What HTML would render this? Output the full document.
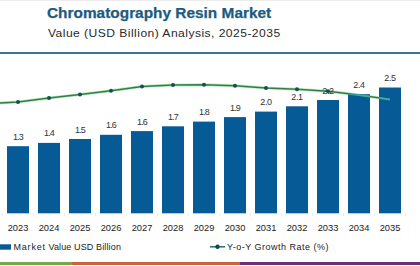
<!DOCTYPE html>
<html><head><meta charset="utf-8"><style>
html,body{margin:0;padding:0;background:#fff;}
body{width:420px;height:266px;position:relative;overflow:hidden;font-family:"Liberation Sans",sans-serif;}
.t{position:absolute;white-space:nowrap;line-height:1;}
#title{left:47px;top:5.8px;font-size:14px;font-weight:bold;color:#1c5b80;transform:scaleX(1.1);transform-origin:0 0;-webkit-text-stroke:0.25px #1c5b80;}
#sub{left:47.5px;top:27.8px;font-size:11px;color:#2a2a2a;transform:scaleX(1.1);transform-origin:0 0;letter-spacing:0.41px;}
svg{position:absolute;left:0;top:0;}
</style></head><body>
<div class="t" id="title">Chromatography Resin Market</div>
<div class="t" id="sub">Value (USD Billion) Analysis, 2025-2035</div>
<svg width="420" height="266" viewBox="0 0 420 266">
<rect x="0" y="0" width="420" height="1" fill="#ececec"/>
<rect x="0" y="52" width="420" height="2" fill="#3f7191"/>
<g><line x1="2.5" y1="213.3" x2="2.5" y2="216.3" stroke="#ececec" stroke-width="1"/><line x1="33.5" y1="213.3" x2="33.5" y2="216.3" stroke="#ececec" stroke-width="1"/><line x1="64.5" y1="213.3" x2="64.5" y2="216.3" stroke="#ececec" stroke-width="1"/><line x1="95.5" y1="213.3" x2="95.5" y2="216.3" stroke="#ececec" stroke-width="1"/><line x1="126.5" y1="213.3" x2="126.5" y2="216.3" stroke="#ececec" stroke-width="1"/><line x1="157.5" y1="213.3" x2="157.5" y2="216.3" stroke="#ececec" stroke-width="1"/><line x1="188.5" y1="213.3" x2="188.5" y2="216.3" stroke="#ececec" stroke-width="1"/><line x1="219.5" y1="213.3" x2="219.5" y2="216.3" stroke="#ececec" stroke-width="1"/><line x1="250.5" y1="213.3" x2="250.5" y2="216.3" stroke="#ececec" stroke-width="1"/><line x1="281.5" y1="213.3" x2="281.5" y2="216.3" stroke="#ececec" stroke-width="1"/><line x1="312.5" y1="213.3" x2="312.5" y2="216.3" stroke="#ececec" stroke-width="1"/><line x1="343.5" y1="213.3" x2="343.5" y2="216.3" stroke="#ececec" stroke-width="1"/><line x1="374.5" y1="213.3" x2="374.5" y2="216.3" stroke="#ececec" stroke-width="1"/><line x1="405.5" y1="213.3" x2="405.5" y2="216.3" stroke="#ececec" stroke-width="1"/></g>
<g fill="none" stroke-linejoin="round" stroke-linecap="round">
<path d="M0,103 L18,101.9 L49,98 L80,94.6 L111,90.7 L142,86.6 L173,85 L204,84.7 L235,85.7 L266,88 L297,89.3 L328,91.2 L359,95 L390,99.4" stroke="#c4eac4" stroke-width="3.0"/>
<path d="M0,103 L18,101.9 L49,98 L80,94.6 L111,90.7 L142,86.6 L173,85 L204,84.7 L235,85.7 L266,88 L297,89.3 L328,91.2 L359,95 L390,99.4" stroke="#2f8048" stroke-width="1.5"/>
</g>
<g><circle cx="18" cy="101.9" r="2.0" fill="#13504f"/><circle cx="49" cy="98" r="2.0" fill="#13504f"/><circle cx="80" cy="94.6" r="2.0" fill="#13504f"/><circle cx="111" cy="90.7" r="2.0" fill="#13504f"/><circle cx="142" cy="86.6" r="2.0" fill="#13504f"/><circle cx="173" cy="85" r="2.0" fill="#13504f"/><circle cx="204" cy="84.7" r="2.0" fill="#13504f"/><circle cx="235" cy="85.7" r="2.0" fill="#13504f"/><circle cx="266" cy="88" r="2.0" fill="#13504f"/><circle cx="297" cy="89.3" r="2.0" fill="#13504f"/><circle cx="328" cy="91.2" r="2.0" fill="#13504f"/></g>
<defs><clipPath id="bc"><rect x="7" y="146.2" width="22" height="67.1" fill="#065a95"/><rect x="38" y="142.9" width="22" height="70.4" fill="#065a95"/><rect x="69" y="139" width="22" height="74.3" fill="#065a95"/><rect x="100" y="134.8" width="22" height="78.5" fill="#065a95"/><rect x="131" y="131.1" width="22" height="82.2" fill="#065a95"/><rect x="162" y="126.3" width="22" height="87.0" fill="#065a95"/><rect x="193" y="121.6" width="22" height="91.7" fill="#065a95"/><rect x="224" y="117.1" width="22" height="96.2" fill="#065a95"/><rect x="255" y="111.6" width="22" height="101.7" fill="#065a95"/><rect x="286" y="106.3" width="22" height="107.0" fill="#065a95"/><rect x="317" y="100" width="22" height="113.3" fill="#065a95"/><rect x="348" y="94.2" width="22" height="119.1" fill="#065a95"/><rect x="379" y="87.5" width="22" height="125.8" fill="#065a95"/></clipPath></defs>
<g><rect x="7" y="146.2" width="22" height="67.1" fill="#065a95"/><rect x="38" y="142.9" width="22" height="70.4" fill="#065a95"/><rect x="69" y="139" width="22" height="74.3" fill="#065a95"/><rect x="100" y="134.8" width="22" height="78.5" fill="#065a95"/><rect x="131" y="131.1" width="22" height="82.2" fill="#065a95"/><rect x="162" y="126.3" width="22" height="87.0" fill="#065a95"/><rect x="193" y="121.6" width="22" height="91.7" fill="#065a95"/><rect x="224" y="117.1" width="22" height="96.2" fill="#065a95"/><rect x="255" y="111.6" width="22" height="101.7" fill="#065a95"/><rect x="286" y="106.3" width="22" height="107.0" fill="#065a95"/><rect x="317" y="100" width="22" height="113.3" fill="#065a95"/><rect x="348" y="94.2" width="22" height="119.1" fill="#065a95"/><rect x="379" y="87.5" width="22" height="125.8" fill="#065a95"/></g>
<path d="M0,103 L18,101.9 L49,98 L80,94.6 L111,90.7 L142,86.6 L173,85 L204,84.7 L235,85.7 L266,88 L297,89.3 L328,91.2 L359,95 L390,99.4" clip-path="url(#bc)" fill="none" stroke="#5cc29a" stroke-opacity="0.75" stroke-width="2"/>
<g font-family="Liberation Sans" font-size="9" fill="#333" text-anchor="middle"><text x="18" y="139.7" letter-spacing="-0.9">1.3</text><text x="49" y="136.4" letter-spacing="-0.9">1.4</text><text x="80" y="132.5" letter-spacing="-0.9">1.5</text><text x="111" y="128.3" letter-spacing="-0.9">1.6</text><text x="142" y="124.6" letter-spacing="-0.9">1.6</text><text x="173" y="119.8" letter-spacing="-0.9">1.7</text><text x="204" y="115.1" letter-spacing="-0.9">1.8</text><text x="235" y="110.6" letter-spacing="-0.9">1.9</text><text x="266" y="105.1" letter-spacing="-0.35">2.0</text><text x="297" y="99.8" letter-spacing="-0.35">2.1</text><text x="328" y="93.5" letter-spacing="-0.35">2.2</text><text x="359" y="87.7" letter-spacing="-0.35">2.4</text><text x="390" y="81.0" letter-spacing="-0.35">2.5</text></g>
<g font-family="Liberation Sans" font-size="9.3" fill="#222" text-anchor="middle"><text x="18" y="231.3">2023</text><text x="49" y="231.3">2024</text><text x="80" y="231.3">2025</text><text x="111" y="231.3">2026</text><text x="142" y="231.3">2027</text><text x="173" y="231.3">2028</text><text x="204" y="231.3">2029</text><text x="235" y="231.3">2030</text><text x="266" y="231.3">2031</text><text x="297" y="231.3">2032</text><text x="328" y="231.3">2033</text><text x="359" y="231.3">2034</text><text x="390" y="231.3">2035</text></g>
<rect x="0" y="244.3" width="11" height="5.4" fill="#065a95"/>
<text x="13.5" y="249.7" font-family="Liberation Sans" font-size="9" fill="#222" letter-spacing="0.13"><tspan letter-spacing="0.8">Market</tspan> Value USD Billion</text>
<line x1="210" y1="246.8" x2="225" y2="246.8" stroke="#2a7f5a" stroke-width="1.6"/>
<circle cx="217.5" cy="246.8" r="2.2" fill="#10494f"/>
<text x="227" y="249.7" font-family="Liberation Sans" font-size="9" fill="#222" letter-spacing="0.5">Y-o-Y Growth Rate (%)</text>
<rect x="0" y="262" width="72" height="3" fill="#78a84a"/>
<rect x="72" y="262" width="168" height="3" fill="#c9653b"/>
<rect x="240" y="262" width="180" height="3" fill="#6b3172"/>
</svg>
</body></html>
